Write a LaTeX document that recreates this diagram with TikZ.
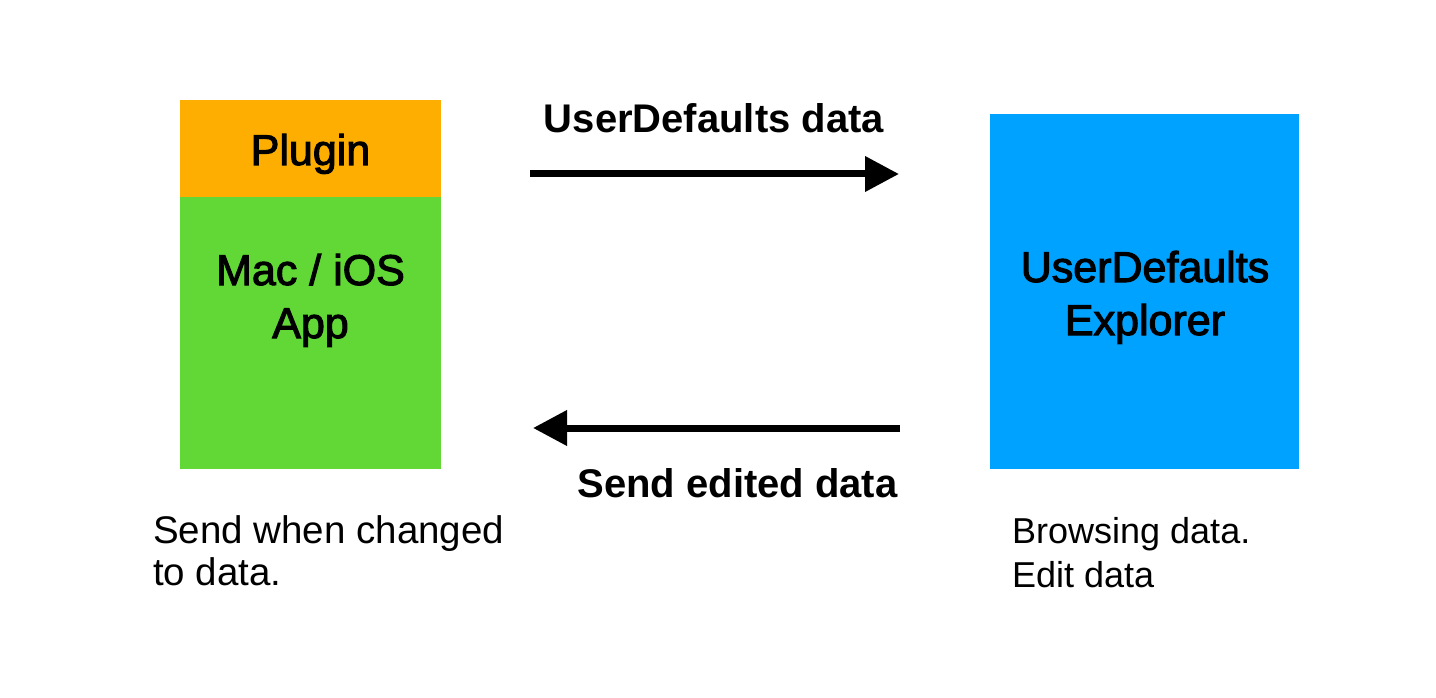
\documentclass[tikz,border=0pt]{standalone}
\usepackage{fontspec}
\setmainfont{Liberation Sans}
\newfontfamily\medfont[FakeBold=2.5]{Liberation Sans}
\usetikzlibrary{arrows.meta}
\definecolor{plugorange}{HTML}{FEAE00}
\definecolor{appgreen}{HTML}{61D836}
\definecolor{exblue}{HTML}{00A2FF}
\begin{document}
\begin{tikzpicture}[x=1pt,y=-1pt,
  block/.style={draw=none,inner sep=0pt,outer sep=0pt,anchor=north west},
  boxtext/.style={font=\fontsize{43}{53}\medfont,align=center,anchor=base,inner sep=0pt},
  arrowlabel/.style={font=\fontsize{40}{48}\selectfont\bfseries,anchor=base,inner sep=0pt},
  note/.style={align=left,anchor=base west,inner sep=0pt},
  flow/.style={line width=7pt,-{Triangle[length=34pt,width=34pt]}}]
\useasboundingbox (0,0) rectangle (1436,698);
\fill[white] (0,0) rectangle (1436,698);
% boxes
\node[block,fill=plugorange,minimum width=261pt,minimum height=97pt] (plugin) at (180,100) {};
\node[block,fill=appgreen,minimum width=261pt,minimum height=272pt] (app) at (180,197) {};
\node[block,fill=exblue,minimum width=309pt,minimum height=355pt] (explorer) at (990,114) {};
% box texts (base anchor = baseline of the last line)
\node[boxtext] (plugintext) at (310.5,165) {Plugin};
\node[boxtext] (apptext) at (310.5,338) {Mac / iOS\\App};
\node[boxtext] (explorertext) at (1145,335) {UserDefaults\\Explorer};
% arrows
\coordinate (sendstart) at (530,174);
\coordinate (sendend) at (899,174);
\coordinate (backstart) at (900,428);
\coordinate (backend) at (533,428);
\draw[flow] (sendstart) -- (sendend);
\draw[flow] (backstart) -- (backend);
\node[arrowlabel] (sendlabel) at (714,133) {UserDefaults data};
\node[arrowlabel] (backlabel) at (737.5,497) {Send edited data};
% notes
\node[note,font=\fontsize{38.5}{42}\selectfont] (appnote) at (153,585) {Send when changed\\to data.};
\node[note,font=\fontsize{36}{44}\selectfont] (explorernote) at (1012,587) {Browsing data.\\Edit data};
\end{tikzpicture}
\end{document}
